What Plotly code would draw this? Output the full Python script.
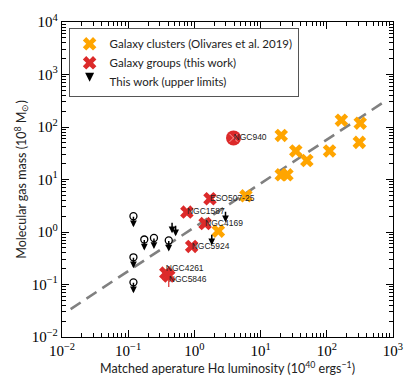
import numpy as np
import plotly.graph_objects as go

# Galaxy clusters (Olivares et al. 2019)
cluster_lha = [166, 320, 310, 20.5, 34, 110, 50, 20.5, 25, 6.0, 2.3]
cluster_mgas = [135, 118, 51, 69, 35, 35, 23, 12.3, 12.3, 4.9, 1.04]

# Galaxy groups (this work)
group_names = ["ESO507-25", "NGC1587", "NGC4169", "NGC5924", "NGC4261", "NGC5846"]
group_lha = [1.72, 0.77, 1.45, 0.91, 0.37, 0.41]
group_mgas = [4.3, 2.4, 1.45, 0.53, 0.165, 0.145]
group_err_plus = [0, 0, 0, 0, 0, 0.08]
group_err_minus = [0, 0, 0, 0, 0, 0.055]

# detected group highlighted with a circle
ngc940_lha = [3.9]
ngc940_mgas = [62]

# upper limits with open circles
ul_circ_lha = [0.12, 0.175, 0.245, 0.41, 0.12, 0.12]
ul_circ_mgas = [2.0, 0.72, 0.77, 0.69, 0.33, 0.11]

# upper limits (arrows only)
ul_lha = [0.46, 0.52, 2.95, 1.83]
ul_mgas = [1.6, 1.4, 2.6, 0.95]

# dashed relation
fit_lha = [0.0135, 700]
fit_mgas = [0.034, 290]

xtickvals = [0.01, 0.1, 1, 10, 100, 1000]
xticktext = ["10<sup>−2</sup>", "10<sup>−1</sup>", "10<sup>0</sup>", "10<sup>1</sup>",
             "10<sup>2</sup>", "10<sup>3</sup>"]
ytickvals = [0.01, 0.1, 1, 10, 100, 1000, 10000]
yticktext = ["10<sup>−2</sup>", "10<sup>−1</sup>", "10<sup>0</sup>", "10<sup>1</sup>",
             "10<sup>2</sup>", "10<sup>3</sup>", "10<sup>4</sup>"]

RED = "#dc2a2a"
ORANGE = "#ffa500"
label_font = dict(family="Liberation Sans", size=8.5, color="#222222")

fig = go.Figure()

fig.add_trace(go.Scatter(x=fit_lha, y=fit_mgas, mode="lines",
                         line=dict(color="#808080", width=2.6, dash="12px,7px"),
                         showlegend=False, hoverinfo="skip"))

fig.add_trace(go.Scatter(x=cluster_lha, y=cluster_mgas, mode="markers",
                         name="Galaxy clusters (Olivares et al. 2019)",
                         marker=dict(symbol="x", size=12, color=ORANGE,
                                     line=dict(width=0))))

fig.add_trace(go.Scatter(x=group_lha, y=group_mgas, mode="markers",
                         name="Galaxy groups (this work)",
                         marker=dict(symbol="x", size=12, color=RED, line=dict(width=0)),
                         error_y=dict(type="data", symmetric=False, array=group_err_plus,
                                      arrayminus=group_err_minus, color=RED,
                                      thickness=1.2, width=0)))

# NGC940: circled detection
fig.add_trace(go.Scatter(x=ngc940_lha, y=ngc940_mgas, mode="markers", showlegend=False,
                         marker=dict(symbol="circle", size=15, color=RED,
                                     line=dict(width=0))))
fig.add_trace(go.Scatter(x=ngc940_lha, y=ngc940_mgas, mode="markers", showlegend=False,
                         marker=dict(symbol="x-thin", size=8,
                                     line=dict(width=1, color="#ff9a9a"))))

# labels
label_pos = ["middle right"] * 4 + ["top right", "bottom right"]
fig.add_trace(go.Scatter(x=group_lha + ngc940_lha, y=group_mgas + ngc940_mgas,
                         mode="text", text=group_names + ["NGC940"],
                         textposition=label_pos + ["middle right"],
                         textfont=label_font, showlegend=False, hoverinfo="skip"))

# upper limit arrows
arrow_kw = dict(showarrow=True, arrowhead=2, arrowsize=0.9, arrowwidth=1.5,
                arrowcolor="black", ax=0, text="")
for x, y in zip(ul_circ_lha, ul_circ_mgas):
    fig.add_annotation(x=np.log10(x), y=np.log10(y), ay=-12, yshift=-11, **arrow_kw)
for x, y in zip(ul_lha, ul_mgas):
    fig.add_annotation(x=np.log10(x), y=np.log10(y), ay=-12, yshift=-12, **arrow_kw)

fig.add_trace(go.Scatter(x=ul_circ_lha, y=ul_circ_mgas, mode="markers", showlegend=False,
                         marker=dict(symbol="circle", size=7, color="white",
                                     line=dict(width=1.3, color="black"))))

# legend entry for upper limits
fig.add_trace(go.Scatter(x=[None], y=[None], mode="markers",
                         name="This work (upper limits)",
                         marker=dict(symbol="arrow-down", size=9, color="black")))

axis_common = dict(type="log", showgrid=False, zeroline=False, showline=True,
                   linecolor="black", linewidth=1.3, mirror="allticks", ticks="inside",
                   tickmode="array", ticklen=7, tickcolor="black", tickwidth=1.2,
                   ticklabeloverflow="allow",
                   tickfont=dict(family="Liberation Serif", size=15, color="black"),
                   minor=dict(ticks="inside", dtick="D1", ticklen=4,
                              tickcolor="black", tickwidth=1, showgrid=False))

fig.update_xaxes(range=[-2, 3.0001], tickvals=xtickvals, ticktext=xticktext,
                 title=dict(text="Matched aperature Hα luminosity (10<sup>40</sup> ergs<sup>−1</sup>)",
                            font=dict(family="Lato", size=12.5, color="#222222"),
                            standoff=6),
                 **axis_common)
fig.update_yaxes(range=[-2, 4.0001], tickvals=ytickvals, ticktext=yticktext,
                 title=dict(text="Molecular gas mass (10<sup>8</sup> M<sub>⊙</sub>)",
                            font=dict(family="Lato", size=12.5, color="#222222"),
                            standoff=2),
                 **axis_common)

fig.update_layout(
    width=415, height=386,
    margin=dict(l=62, r=19, t=13, b=43),
    plot_bgcolor="white", paper_bgcolor="white",
    legend=dict(x=0.02, y=0.98, xanchor="left", yanchor="top",
                bgcolor="white", bordercolor="#555555", borderwidth=1,
                font=dict(family="Lato", size=11.5, color="#222222"),
                itemwidth=30, tracegroupgap=0),
)

fig.write_html("out.html", config={"displayModeBar": False},
               post_script="document.body.style.margin='0';")
